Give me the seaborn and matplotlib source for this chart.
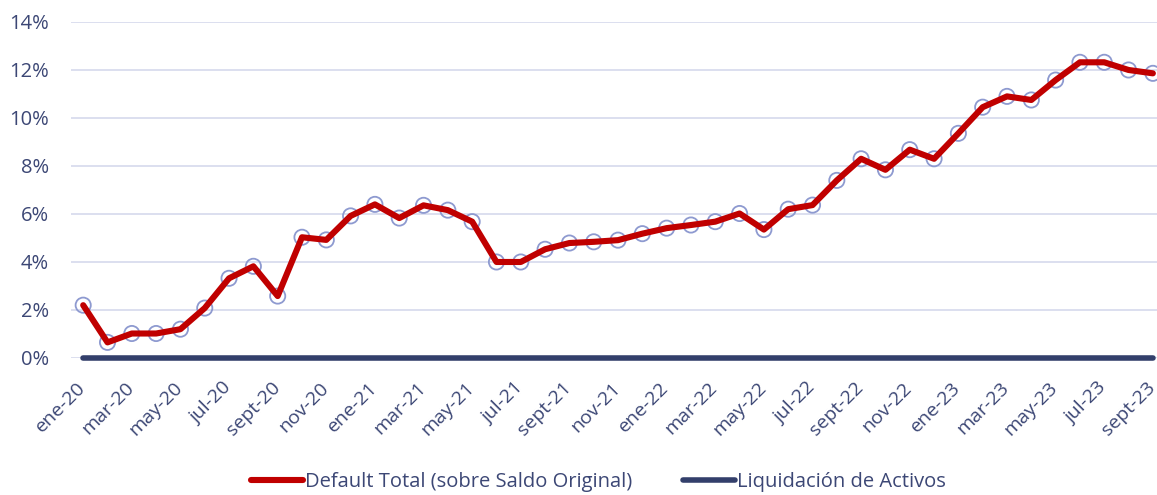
import numpy as np
import pandas as pd
import matplotlib
matplotlib.use("Agg")
import matplotlib.pyplot as plt
import matplotlib.transforms as mtransforms
from matplotlib.ticker import PercentFormatter
import seaborn as sns

# ── Data ────────────────────────────────────────────────────────────────────
MONTHS = ["ene", "feb", "mar", "abr", "may", "jun",
          "jul", "ago", "sept", "oct", "nov", "dic"]
periods = [f"{m}-{y}" for y in ("20", "21", "22", "23") for m in MONTHS][:45]

default_total = [
    2.20, 0.65, 1.02, 1.02, 1.20, 2.08, 3.32, 3.82, 2.58, 5.03, 4.92, 5.92,
    6.40, 5.83, 6.36, 6.16, 5.68, 4.00, 4.00, 4.53, 4.79, 4.84, 4.91, 5.18,
    5.41, 5.54, 5.68, 6.02, 5.35, 6.20, 6.37, 7.40, 8.30, 7.84, 8.68, 8.30,
    9.36, 10.45, 10.90, 10.75, 11.58, 12.32, 12.32, 12.00, 11.86,
]
liquidacion = [0.0] * 45

df = pd.DataFrame({
    "idx": np.arange(len(periods)),
    "periodo": periods,
    "Default Total (sobre Saldo Original)": np.array(default_total) / 100,
    "Liquidación de Activos": np.array(liquidacion) / 100,
})

RED = "#c00000"
NAVY = "#333f6b"
TEXT = "#3c4775"
GRID = "#d9dcee"
MARKER = "#8e9ad0"

sns.set_theme(style="white")
plt.rcParams["font.family"] = ["Open Sans", "DejaVu Sans"]

fig = plt.figure(figsize=(11.57, 4.95), dpi=100)
ax = fig.add_axes([0.0614, 0.2768, 0.9386, 0.6788])

# markers sit under the red line
sns.scatterplot(data=df, x="idx", y="Default Total (sobre Saldo Original)",
                ax=ax, marker="o", s=120, facecolor="none",
                edgecolor=MARKER, linewidth=1.3, zorder=2, legend=False)
sns.lineplot(data=df, x="idx", y="Default Total (sobre Saldo Original)",
             ax=ax, color=RED, linewidth=4.4, zorder=3,
             label="Default Total (sobre Saldo Original)")
sns.lineplot(data=df, x="idx", y="Liquidación de Activos",
             ax=ax, color=NAVY, linewidth=4.0, zorder=3,
             label="Liquidación de Activos")
for ln in ax.lines:
    ln.set_solid_capstyle("round")
    ln.set_clip_on(False)

ax.set_xlim(-0.5, 44.17)
ax.set_ylim(0, 0.14)
ax.yaxis.set_major_formatter(PercentFormatter(1, decimals=0))
ax.set_yticks(np.arange(0, 0.141, 0.02))
ax.grid(axis="y", color=GRID, linewidth=1.3, zorder=0)
ax.set_axisbelow(True)

ticks = df["idx"][::2]
ax.set_xticks(ticks)
ax.set_xticklabels(df["periodo"][::2], rotation=45, ha="right",
                   rotation_mode="anchor")
ax.tick_params(axis="both", length=0, labelsize=14.5, colors=TEXT)
ax.tick_params(axis="x", labelsize=14, pad=15)
ax.tick_params(axis="y", pad=16)
shift = mtransforms.ScaledTranslation(-7 / 100, 0, fig.dpi_scale_trans)
for lbl in ax.get_xticklabels():
    lbl.set_transform(lbl.get_transform() + shift)
ax.set_xlabel("")
ax.set_ylabel("")
sns.despine(ax=ax, left=True, bottom=True)

ax.get_legend().remove()
handles, labels = ax.get_legend_handles_labels()
leg = fig.legend(handles, labels, loc="center", bbox_to_anchor=(0.517, 0.026),
                 ncol=2, frameon=False, fontsize=14.5, handlelength=2.6,
                 handletextpad=0.1, columnspacing=2.5, borderaxespad=0)
for t in leg.get_texts():
    t.set_color(TEXT)

fig.savefig("out.png", dpi=100)
